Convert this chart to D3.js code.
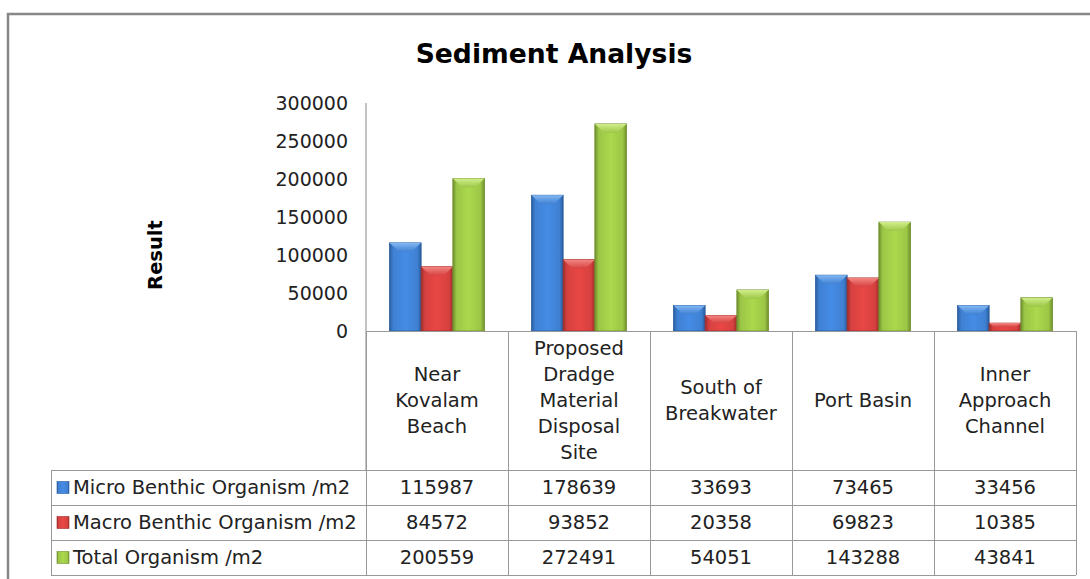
<!DOCTYPE html>
<html>
<head>
<meta charset="utf-8">
<script src="https://cdn.jsdelivr.net/npm/d3@7"></script>
<style>
  body { margin: 0; background: #fff; }
  svg { display: block; font-family: "DejaVu Sans", Verdana, sans-serif; }
</style>
</head>
<body>
<svg id="chart" width="1090" height="579"></svg>
<script>
const categories = [
  "Near\nKovalam\nBeach",
  "Proposed\nDradge\nMaterial\nDisposal\nSite",
  "South of\nBreakwater",
  "Port Basin",
  "Inner\nApproach\nChannel"
];
const seriesNames = ["Micro Benthic Organism /m2", "Macro Benthic Organism /m2", "Total Organism /m2"];
const microValues = [115987, 178639, 33693, 73465, 33456];
const macroValues = [84572, 93852, 20358, 69823, 10385];
const totalValues = [200559, 272491, 54051, 143288, 43841];
const yTicks = [0, 50000, 100000, 150000, 200000, 250000, 300000];

const series = [microValues, macroValues, totalValues];
// base, light, dark for each series
const palette = [
  { base: "#3f80d2", light: "#86bbf5", dark: "#2a5d9f" },
  { base: "#d5413f", light: "#f58a86", dark: "#9e2c2a" },
  { base: "#9cc646", light: "#d4f08e", dark: "#6f8f2c" }
];

const svg = d3.select("#chart");
const plotLeft = 366, plotRight = 1076, plotTop = 103, plotBottom = 331;
const headerBottom = 470, rowH = 35, tableLeft = 51;
const fs = 19.5;

const x0 = d3.scaleBand().domain(d3.range(categories.length)).range([plotLeft, plotRight]);
const x1 = d3.scaleBand().domain(d3.range(series.length)).range([0, x0.bandwidth()]).paddingOuter(0.74);
const y = d3.scaleLinear().domain([0, 300000]).range([plotBottom, plotTop]);

// gradients
const defs = svg.append("defs");
palette.forEach((c, i) => {
  const g = defs.append("linearGradient").attr("id", "bar" + i).attr("x1", 0).attr("x2", 1);
  g.append("stop").attr("offset", "0%").attr("stop-color", c.dark);
  g.append("stop").attr("offset", "12%").attr("stop-color", c.base);
  g.append("stop").attr("offset", "50%").attr("stop-color", d3.color(c.base).brighter(0.25));
  g.append("stop").attr("offset", "88%").attr("stop-color", c.base);
  g.append("stop").attr("offset", "100%").attr("stop-color", c.dark);
  const t = defs.append("linearGradient").attr("id", "top" + i).attr("x1", 0).attr("x2", 0).attr("y1", 0).attr("y2", 1);
  t.append("stop").attr("offset", "0%").attr("stop-color", c.light);
  t.append("stop").attr("offset", "100%").attr("stop-color", c.base);
});

// outer frame
svg.append("path").attr("d", "M8,579 V14 H1090").attr("fill", "none")
  .attr("stroke", "#878787").attr("stroke-width", 2.5);

// title
svg.append("text").attr("x", 554).attr("y", 63).attr("text-anchor", "middle")
  .attr("font-size", 26.6).attr("font-weight", "bold").attr("fill", "#000")
  .text("Sediment Analysis");

// y axis title
svg.append("text").attr("transform", "translate(162,255) rotate(-90)")
  .attr("text-anchor", "middle").attr("font-size", 19.5).attr("font-weight", "bold")
  .text("Result");

// y axis
const yAxis = svg.append("g").attr("transform", `translate(${plotLeft},0)`)
  .call(d3.axisLeft(y).tickValues(yTicks).tickSize(0).tickPadding(18).tickFormat(d3.format("d")));
yAxis.select(".domain").attr("stroke", "#888").attr("d", `M0,${plotTop}V${headerBottom}`);
yAxis.selectAll("text").attr("font-size", 19).attr("fill", "#222")
  .attr("font-family", "DejaVu Sans, Verdana, sans-serif");

// bars
const groups = svg.append("g").selectAll("g").data(categories.map((c, i) => i)).join("g")
  .attr("transform", i => `translate(${x0(i)},0)`);
groups.each(function (ci) {
  const g = d3.select(this);
  series.forEach((vals, si) => {
    const bx = x1(si), bw = x1.bandwidth();
    const top = y(vals[ci]), h = plotBottom - top;
    g.append("rect").attr("x", bx).attr("y", top).attr("width", bw).attr("height", h)
      .attr("fill", `url(#bar${si})`).attr("stroke", palette[si].dark).attr("stroke-width", 0.8);
    const bev = Math.min(9, h / 2);
    const inset = Math.min(bw * 0.3, bev * 1.2);
    g.append("path")
      .attr("d", `M${bx},${top} L${bx + bw},${top} L${bx + bw - inset},${top + bev} L${bx + inset},${top + bev} Z`)
      .attr("fill", `url(#top${si})`).attr("opacity", 0.95);
  });
});

// table lines
const grid = "#999";
const tbl = svg.append("g").attr("stroke", grid).attr("stroke-width", 1).attr("fill", "none");
tbl.append("line").attr("x1", plotLeft).attr("x2", plotRight).attr("y1", plotBottom + 0.5).attr("y2", plotBottom + 0.5);
const rowYs = d3.range(series.length + 1).map(i => headerBottom + i * rowH);
rowYs.forEach(ry => tbl.append("line").attr("x1", tableLeft).attr("x2", plotRight).attr("y1", ry + 0.5).attr("y2", ry + 0.5));
tbl.append("line").attr("x1", tableLeft + 0.5).attr("x2", tableLeft + 0.5).attr("y1", headerBottom).attr("y2", rowYs[rowYs.length - 1]);
categories.forEach((c, i) => {
  const xr = x0(i) + x0.bandwidth();
  tbl.append("line").attr("x1", xr + 0.5).attr("x2", xr + 0.5).attr("y1", plotBottom).attr("y2", rowYs[rowYs.length - 1]);
});
tbl.append("line").attr("x1", plotLeft + 0.5).attr("x2", plotLeft + 0.5).attr("y1", plotBottom).attr("y2", rowYs[rowYs.length - 1]);

// category headers
const lineH = 26;
categories.forEach((c, i) => {
  const lines = c.split("\n");
  const cy = (plotBottom + headerBottom) / 2;
  const t = svg.append("text").attr("text-anchor", "middle").attr("font-size", fs).attr("fill", "#222");
  lines.forEach((ln, k) => {
    t.append("tspan").attr("x", x0(i) + x0.bandwidth() / 2)
      .attr("y", cy + (k - (lines.length - 1) / 2) * lineH).attr("dy", "0.35em").text(ln);
  });
});

// data rows
series.forEach((vals, si) => {
  const cy = headerBottom + si * rowH + rowH / 2;
  const c = palette[si];
  svg.append("rect").attr("x", 57).attr("y", cy - 6).attr("width", 12).attr("height", 12)
    .attr("fill", `url(#bar${si})`).attr("stroke", c.dark).attr("stroke-width", 0.6);
  svg.append("text").attr("x", 73).attr("y", cy).attr("dy", "0.35em").attr("font-size", fs)
    .attr("fill", "#222").text(seriesNames[si]);
  vals.forEach((v, ci) => {
    svg.append("text").attr("x", x0(ci) + x0.bandwidth() / 2).attr("y", cy).attr("dy", "0.35em")
      .attr("text-anchor", "middle").attr("font-size", fs).attr("fill", "#222").text(v);
  });
});
</script>
</body>
</html>
